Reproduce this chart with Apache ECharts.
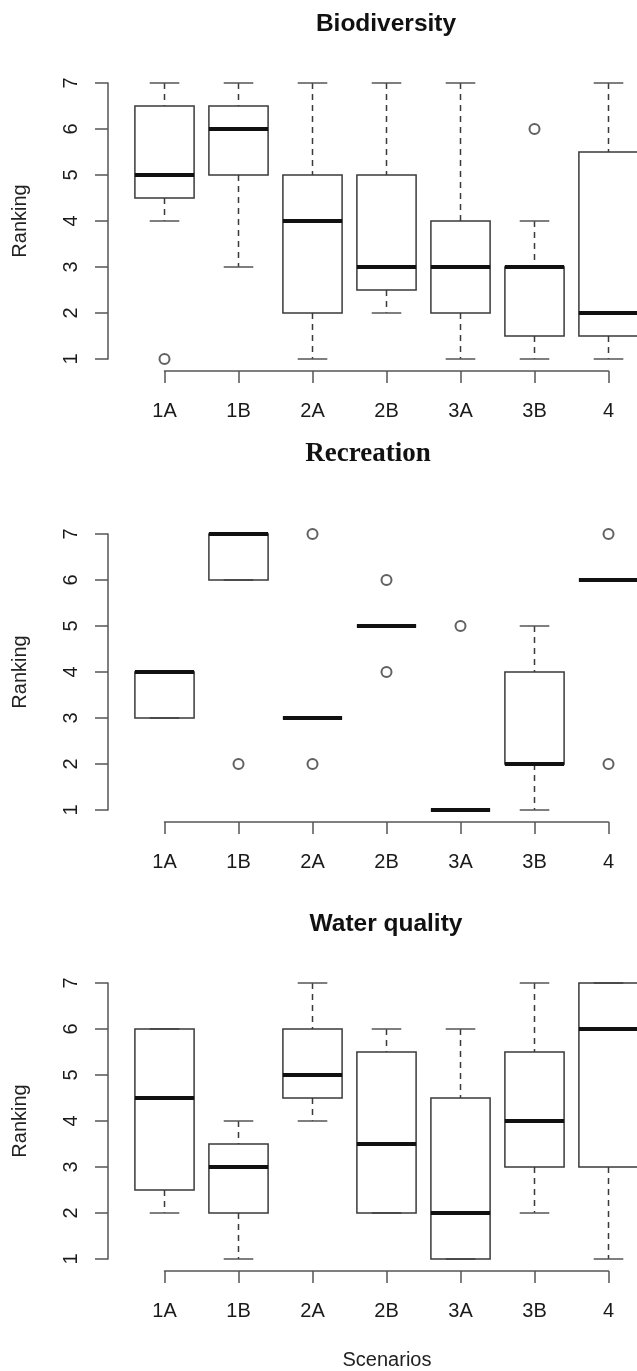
<!DOCTYPE html>
<html>
<head>
<meta charset="utf-8">
<script src="https://cdn.jsdelivr.net/npm/echarts@6/dist/echarts.min.js"></script>
<style>
html,body{margin:0;padding:0;background:#fff;}
#chart{width:637px;height:1371px;}
</style>
</head>
<body>
<div id="chart"></div>
<script>
// ---- data ----
const categories = ['1A', '1B', '2A', '2B', '3A', '3B', '4'];
const panelTitles = ['Biodiversity', 'Recreation', 'Water quality'];
const yTickMin = 1;
const yTickMax = 7;
// each box: [lower whisker, Q1, median, Q3, upper whisker]
const biodiversityBoxes = [
  [4, 4.5, 5, 6.5, 7],
  [3, 5, 6, 6.5, 7],
  [1, 2, 4, 5, 7],
  [2, 2.5, 3, 5, 7],
  [1, 2, 3, 4, 7],
  [1, 1.5, 3, 3, 4],
  [1, 1.5, 2, 5.5, 7]
];
const biodiversityOutliers = [[0, 1], [5, 6]];
const recreationBoxes = [
  [3, 3, 4, 4, 4],
  [6, 6, 7, 7, 7],
  [3, 3, 3, 3, 3],
  [5, 5, 5, 5, 5],
  [1, 1, 1, 1, 1],
  [1, 2, 2, 4, 5],
  [6, 6, 6, 6, 6]
];
const recreationOutliers = [[1, 2], [2, 7], [2, 2], [3, 6], [3, 4], [4, 5], [6, 7], [6, 2]];
const waterBoxes = [
  [2, 2.5, 4.5, 6, 6],
  [1, 2, 3, 3.5, 4],
  [4, 4.5, 5, 6, 7],
  [2, 2, 3.5, 5.5, 6],
  [1, 1, 2, 4.5, 6],
  [2, 3, 4, 5.5, 7],
  [1, 3, 6, 7, 7]
];
const waterOutliers = [];

// ---- layout / style ----
const FONT = 'Liberation Sans, Arial, Helvetica, sans-serif';
const panelTops = [83, 534, 983];
const plotH = 276;
const gridLeft = 164.5;
const gridW = 444;
const axisColor = '#555';
const lineColor = '#3a3a3a';

const boxesList = [biodiversityBoxes, recreationBoxes, waterBoxes];
const outliersList = [biodiversityOutliers, recreationOutliers, waterOutliers];

function renderBox(params, api) {
  const i = api.value(0);
  const lo = api.coord([i, api.value(1)]);
  const q1 = api.coord([i, api.value(2)]);
  const md = api.coord([i, api.value(3)]);
  const q3 = api.coord([i, api.value(4)]);
  const hi = api.coord([i, api.value(5)]);
  const step = Math.abs(api.coord([1, 1])[0] - api.coord([0, 1])[0]);
  const bw = step * 0.8;
  const cw = bw / 2;
  const x = lo[0];
  const thin = { stroke: lineColor, lineWidth: 1.5, fill: null };
  const dashed = { stroke: lineColor, lineWidth: 1.5, lineDash: [6, 5] };
  const children = [];
  if (hi[1] < q3[1] - 0.5) {
    children.push({ type: 'line', shape: { x1: x, y1: hi[1], x2: x, y2: q3[1] }, style: dashed });
  }
  if (lo[1] > q1[1] + 0.5) {
    children.push({ type: 'line', shape: { x1: x, y1: q1[1], x2: x, y2: lo[1] }, style: dashed });
  }
  children.push({ type: 'line', shape: { x1: x - cw / 2, y1: hi[1], x2: x + cw / 2, y2: hi[1] }, style: { stroke: axisColor, lineWidth: 1.5 } });
  children.push({ type: 'line', shape: { x1: x - cw / 2, y1: lo[1], x2: x + cw / 2, y2: lo[1] }, style: { stroke: axisColor, lineWidth: 1.5 } });
  children.push({ type: 'rect', shape: { x: x - bw / 2, y: q3[1], width: bw, height: q1[1] - q3[1] }, style: thin });
  children.push({ type: 'line', shape: { x1: x - bw / 2, y1: md[1], x2: x + bw / 2, y2: md[1] }, style: { stroke: '#111', lineWidth: 3.8 } });
  return { type: 'group', children: children };
}

const grids = [], xAxes = [], yAxes = [], series = [];
panelTops.forEach(function (top, p) {
  grids.push({ left: gridLeft, top: top, width: gridW, height: plotH, containLabel: false });
  xAxes.push({
    type: 'category', gridIndex: p, data: categories, boundaryGap: false,
    position: 'bottom', offset: 12,
    axisLine: { show: true, lineStyle: { color: axisColor, width: 1.5 } },
    axisTick: { show: true, length: 12, inside: false, lineStyle: { color: axisColor, width: 1.5 } },
    axisLabel: { show: true, margin: 30, fontSize: 20, fontFamily: FONT, color: '#1a1a1a', interval: 0 },
    splitLine: { show: false }
  });
  yAxes.push({
    type: 'value', gridIndex: p, min: yTickMin, max: yTickMax, interval: 1,
    position: 'left', offset: gridLeft - 108,
    axisLine: { show: true, lineStyle: { color: axisColor, width: 1.5 } },
    axisTick: { show: true, length: 13, inside: false, lineStyle: { color: axisColor, width: 1.5 } },
    axisLabel: { show: true, rotate: 90, margin: 27, fontSize: 20, fontFamily: FONT, color: '#1a1a1a' },
    splitLine: { show: false }
  });
  series.push({
    type: 'custom', xAxisIndex: p, yAxisIndex: p, clip: false,
    renderItem: renderBox,
    encode: { x: 0, y: [1, 2, 3, 4, 5] },
    data: boxesList[p].map(function (b, i) { return [i].concat(b); }),
    silent: true, animation: false
  });
  series.push({
    type: 'scatter', xAxisIndex: p, yAxisIndex: p, clip: false,
    symbol: 'emptyCircle', symbolSize: 10,
    itemStyle: { color: lineColor, borderColor: lineColor, borderWidth: 1.7 },
    data: outliersList[p], silent: true, animation: false, z: 5
  });
});

const graphics = [
  { type: 'text', x: 386, y: 24, style: { text: panelTitles[0], font: 'bold 24.5px ' + FONT, fill: '#111', align: 'center', verticalAlign: 'middle' } },
  { type: 'text', x: 368, y: 454, style: { text: panelTitles[1], font: 'bold 27px "Liberation Serif", "Times New Roman", serif', fill: '#111', align: 'center', verticalAlign: 'middle' } },
  { type: 'text', x: 386, y: 924, style: { text: panelTitles[2], font: 'bold 24.5px ' + FONT, fill: '#111', align: 'center', verticalAlign: 'middle' } },
  { type: 'text', x: 387, y: 1360, style: { text: 'Scenarios', font: '20px ' + FONT, fill: '#222', align: 'center', verticalAlign: 'middle' } }
];
panelTops.forEach(function (top) {
  graphics.push({ type: 'text', x: 20, y: top + plotH / 2, rotation: Math.PI / 2,
    style: { text: 'Ranking', font: '20px ' + FONT, fill: '#222', align: 'center', verticalAlign: 'middle' } });
});

const chart = echarts.init(document.getElementById('chart'), null, { renderer: 'canvas' });
chart.setOption({
  backgroundColor: '#fff',
  animation: false,
  grid: grids,
  xAxis: xAxes,
  yAxis: yAxes,
  series: series,
  graphic: graphics
});
</script>
</body>
</html>
